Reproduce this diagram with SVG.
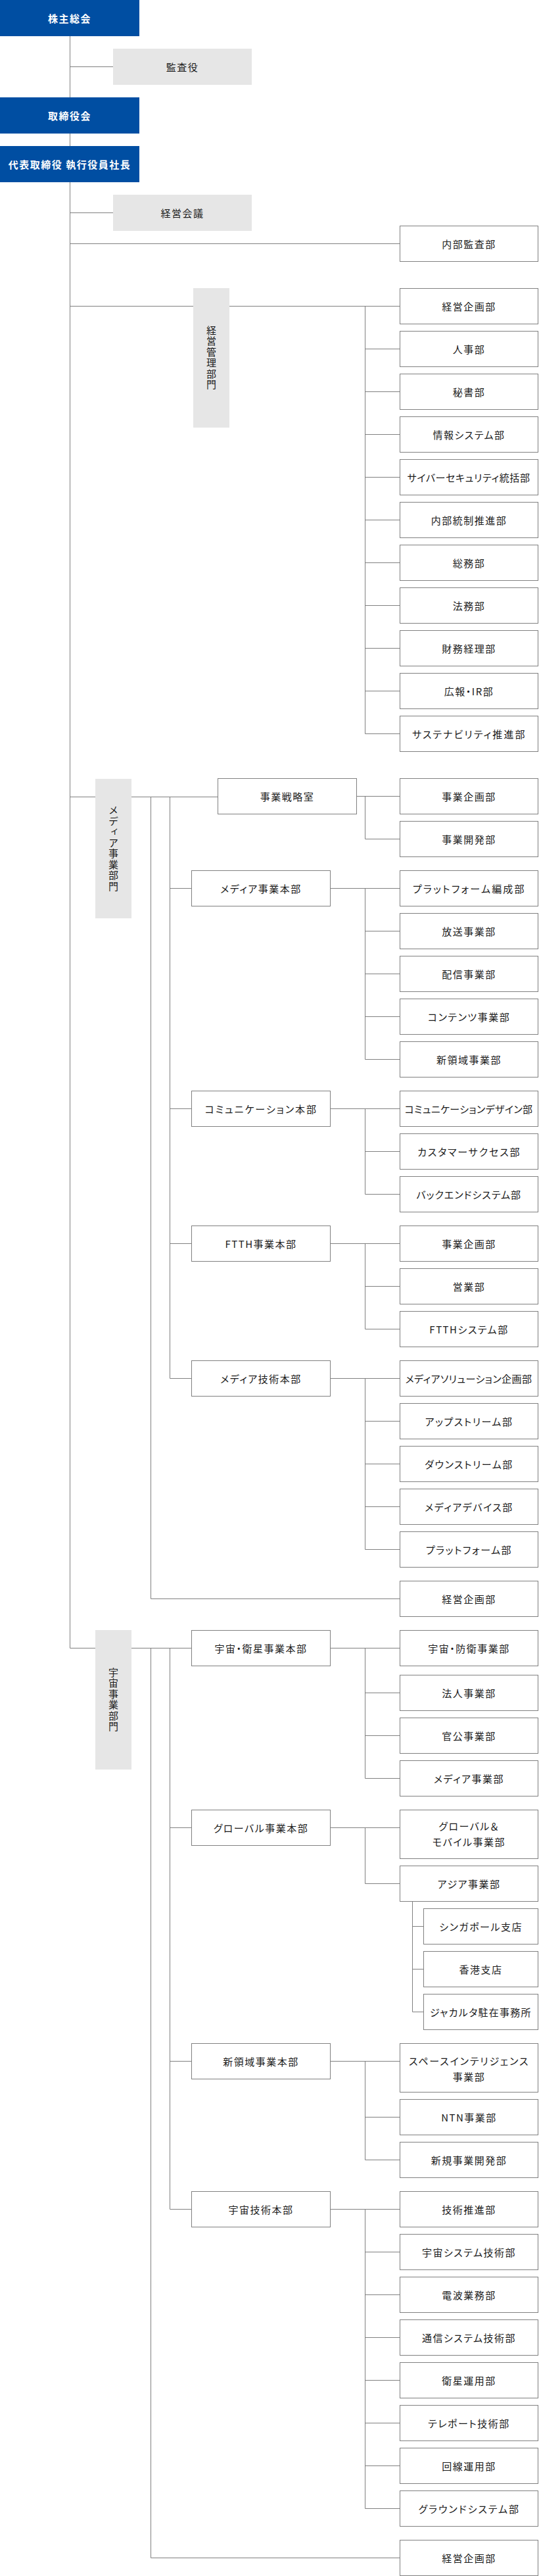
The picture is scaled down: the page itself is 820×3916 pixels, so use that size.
<svg xmlns="http://www.w3.org/2000/svg" width="820" height="3916" viewBox="0 0 820 3916">
<style>
.ln{fill:none;stroke:#808080;stroke-width:1}
.box{fill:#fff;stroke:#808080;stroke-width:1}
.blue{fill:#004ea2}
.gray{fill:#e6e6e6}
text{font-family:"Noto Sans CJK JP","Noto Sans",sans-serif;font-size:15px;fill:#1a1a1a;text-anchor:middle;dominant-baseline:central;letter-spacing:1.5px;font-feature-settings:"palt"}
.tw{fill:#fff;font-weight:bold}
.tv{writing-mode:vertical-rl;font-feature-settings:normal}
</style>
<rect width="820" height="3916" fill="#fff"/>
<g id="connectors">
<path class="ln" d="M106.5 55V2505.5H291.5M106.5 101.5H172M106.5 323.5H172M106.5 370.5H608.5"/>
<path class="ln" d="M106.5 465.5H608.5M555.5 465.5V1115.5M555.5 530.5H608.5M555.5 595.5H608.5M555.5 660.5H608.5M555.5 725.5H608.5M555.5 790.5H608.5M555.5 855.5H608.5M555.5 920.5H608.5M555.5 985.5H608.5M555.5 1050.5H608.5M555.5 1115.5H608.5"/>
<path class="ln" d="M106.5 1211.5H331.5M229.5 1211.5V2430.5H608.5M258.5 1211.5V2095.5M542.5 1210.5H608.5M555.5 1210.5V1275.5H608.5"/>
<path class="ln" d="M258.5 1350.5H291.5M502.5 1350.5H608.5M555.5 1350.5V1610.5M555.5 1415.5H608.5M555.5 1480.5H608.5M555.5 1545.5H608.5M555.5 1610.5H608.5"/>
<path class="ln" d="M258.5 1685.5H291.5M502.5 1685.5H608.5M555.5 1685.5V1815.5M555.5 1750.5H608.5M555.5 1815.5H608.5"/>
<path class="ln" d="M258.5 1890.5H291.5M502.5 1890.5H608.5M555.5 1890.5V2020.5M555.5 1955.5H608.5M555.5 2020.5H608.5"/>
<path class="ln" d="M258.5 2095.5H291.5M502.5 2095.5H608.5M555.5 2095.5V2355.5M555.5 2160.5H608.5M555.5 2225.5H608.5M555.5 2290.5H608.5M555.5 2355.5H608.5"/>
<path class="ln" d="M229.5 2505.5V3888.5H608.5M258.5 2505.5V3358.5M502.5 2505.5H608.5M555.5 2505.5V2703.5M555.5 2573.5H608.5M555.5 2638.5H608.5M555.5 2703.5H608.5"/>
<path class="ln" d="M258.5 2778.5H291.5M502.5 2778.5H608.5M555.5 2778.5V2863.5H608.5M627.5 2890.5V3058.5M627.5 2928.5H644.5M627.5 2993.5H644.5M627.5 3058.5H644.5"/>
<path class="ln" d="M258.5 3133.5H291.5M502.5 3133.5H608.5M555.5 3133.5V3283.5M555.5 3218.5H608.5M555.5 3283.5H608.5"/>
<path class="ln" d="M258.5 3358.5H291.5M502.5 3358.5H608.5M555.5 3358.5V3813.5M555.5 3423.5H608.5M555.5 3488.5H608.5M555.5 3553.5H608.5M555.5 3618.5H608.5M555.5 3683.5H608.5M555.5 3748.5H608.5M555.5 3813.5H608.5"/>
</g>
<g id="n-kabunushi"><rect class="blue" x="0" y="0" width="212" height="55"/><text class="tw" x="106" y="27.5">株主総会</text></g>
<g id="n-kansayaku"><rect class="gray" x="172" y="74" width="211" height="55"/><text x="277.5" y="101.5">監査役</text></g>
<g id="n-torishimariyakukai"><rect class="blue" x="0" y="148" width="212" height="55"/><text class="tw" x="106" y="175.5">取締役会</text></g>
<g id="n-shacho"><rect class="blue" x="0" y="222" width="212" height="55"/><text class="tw" x="106" y="249.5">代表取締役 執行役員社長</text></g>
<g id="n-keieikaigi"><rect class="gray" x="172" y="296" width="211" height="55"/><text x="277.5" y="323.5">経営会議</text></g>
<g id="n-naibukansa"><rect class="box" x="608.5" y="343.5" width="210" height="54"/><text x="713.5" y="370.5">内部監査部</text></g>
<g id="n-keieikanri"><rect class="gray" x="294" y="438" width="55" height="212"/><text class="tv" x="321.5" y="544">経営管理部門</text></g>
<g id="n-km-1"><rect class="box" x="608.5" y="438.5" width="210" height="54"/><text x="713.5" y="465.5">経営企画部</text></g>
<g id="n-km-2"><rect class="box" x="608.5" y="503.5" width="210" height="54"/><text x="713.5" y="530.5">人事部</text></g>
<g id="n-km-3"><rect class="box" x="608.5" y="568.5" width="210" height="54"/><text x="713.5" y="595.5">秘書部</text></g>
<g id="n-km-4"><rect class="box" x="608.5" y="633.5" width="210" height="54"/><text x="713.5" y="660.5">情報システム部</text></g>
<g id="n-km-5"><rect class="box" x="608.5" y="698.5" width="210" height="54"/><text x="713.5" y="725.5" textLength="188" lengthAdjust="spacing">サイバーセキュリティ統括部</text></g>
<g id="n-km-6"><rect class="box" x="608.5" y="763.5" width="210" height="54"/><text x="713.5" y="790.5">内部統制推進部</text></g>
<g id="n-km-7"><rect class="box" x="608.5" y="828.5" width="210" height="54"/><text x="713.5" y="855.5">総務部</text></g>
<g id="n-km-8"><rect class="box" x="608.5" y="893.5" width="210" height="54"/><text x="713.5" y="920.5">法務部</text></g>
<g id="n-km-9"><rect class="box" x="608.5" y="958.5" width="210" height="54"/><text x="713.5" y="985.5">財務経理部</text></g>
<g id="n-km-10"><rect class="box" x="608.5" y="1023.5" width="210" height="54"/><text x="713.5" y="1050.5">広報・IR部</text></g>
<g id="n-km-11"><rect class="box" x="608.5" y="1088.5" width="210" height="54"/><text x="713.5" y="1115.5" textLength="173" lengthAdjust="spacing">サステナビリティ推進部</text></g>
<g id="n-media"><rect class="gray" x="145" y="1184" width="55" height="212"/><text class="tv" x="172.5" y="1290">メディア事業部門</text></g>
<g id="n-senryaku"><rect class="box" x="331.5" y="1183.5" width="211" height="54"/><text x="437" y="1210.5">事業戦略室</text></g>
<g id="n-sr-1"><rect class="box" x="608.5" y="1183.5" width="210" height="54"/><text x="713.5" y="1210.5">事業企画部</text></g>
<g id="n-sr-2"><rect class="box" x="608.5" y="1248.5" width="210" height="54"/><text x="713.5" y="1275.5">事業開発部</text></g>
<g id="n-mediahonbu"><rect class="box" x="291.5" y="1323.5" width="211" height="54"/><text x="397" y="1350.5">メディア事業本部</text></g>
<g id="n-mh-1"><rect class="box" x="608.5" y="1323.5" width="210" height="54"/><text x="713.5" y="1350.5" textLength="171" lengthAdjust="spacing">プラットフォーム編成部</text></g>
<g id="n-mh-2"><rect class="box" x="608.5" y="1388.5" width="210" height="54"/><text x="713.5" y="1415.5">放送事業部</text></g>
<g id="n-mh-3"><rect class="box" x="608.5" y="1453.5" width="210" height="54"/><text x="713.5" y="1480.5">配信事業部</text></g>
<g id="n-mh-4"><rect class="box" x="608.5" y="1518.5" width="210" height="54"/><text x="713.5" y="1545.5">コンテンツ事業部</text></g>
<g id="n-mh-5"><rect class="box" x="608.5" y="1583.5" width="210" height="54"/><text x="713.5" y="1610.5">新領域事業部</text></g>
<g id="n-comm"><rect class="box" x="291.5" y="1658.5" width="211" height="54"/><text x="397" y="1685.5" textLength="171" lengthAdjust="spacing">コミュニケーション本部</text></g>
<g id="n-cm-1"><rect class="box" x="608.5" y="1658.5" width="210" height="54"/><text x="713.5" y="1685.5" textLength="196" lengthAdjust="spacing">コミュニケーションデザイン部</text></g>
<g id="n-cm-2"><rect class="box" x="608.5" y="1723.5" width="210" height="54"/><text x="713.5" y="1750.5" textLength="157" lengthAdjust="spacing">カスタマーサクセス部</text></g>
<g id="n-cm-3"><rect class="box" x="608.5" y="1788.5" width="210" height="54"/><text x="713.5" y="1815.5" textLength="160" lengthAdjust="spacing">バックエンドシステム部</text></g>
<g id="n-ftth"><rect class="box" x="291.5" y="1863.5" width="211" height="54"/><text x="397" y="1890.5">FTTH事業本部</text></g>
<g id="n-ft-1"><rect class="box" x="608.5" y="1863.5" width="210" height="54"/><text x="713.5" y="1890.5">事業企画部</text></g>
<g id="n-ft-2"><rect class="box" x="608.5" y="1928.5" width="210" height="54"/><text x="713.5" y="1955.5">営業部</text></g>
<g id="n-ft-3"><rect class="box" x="608.5" y="1993.5" width="210" height="54"/><text x="713.5" y="2020.5">FTTHシステム部</text></g>
<g id="n-mtech"><rect class="box" x="291.5" y="2068.5" width="211" height="54"/><text x="397" y="2095.5">メディア技術本部</text></g>
<g id="n-mt-1"><rect class="box" x="608.5" y="2068.5" width="210" height="54"/><text x="713.5" y="2095.5" textLength="194" lengthAdjust="spacing">メディアソリューション企画部</text></g>
<g id="n-mt-2"><rect class="box" x="608.5" y="2133.5" width="210" height="54"/><text x="713.5" y="2160.5">アップストリーム部</text></g>
<g id="n-mt-3"><rect class="box" x="608.5" y="2198.5" width="210" height="54"/><text x="713.5" y="2225.5">ダウンストリーム部</text></g>
<g id="n-mt-4"><rect class="box" x="608.5" y="2263.5" width="210" height="54"/><text x="713.5" y="2290.5">メディアデバイス部</text></g>
<g id="n-mt-5"><rect class="box" x="608.5" y="2328.5" width="210" height="54"/><text x="713.5" y="2355.5">プラットフォーム部</text></g>
<g id="n-media-keiei"><rect class="box" x="608.5" y="2403.5" width="210" height="54"/><text x="713.5" y="2430.5">経営企画部</text></g>
<g id="n-space"><rect class="gray" x="145" y="2478" width="55" height="212"/><text class="tv" x="172.5" y="2584">宇宙事業部門</text></g>
<g id="n-eisei"><rect class="box" x="291.5" y="2478.5" width="211" height="54"/><text x="397" y="2505.5">宇宙・衛星事業本部</text></g>
<g id="n-es-1"><rect class="box" x="608.5" y="2478.5" width="210" height="54"/><text x="713.5" y="2505.5">宇宙・防衛事業部</text></g>
<g id="n-es-2"><rect class="box" x="608.5" y="2546.5" width="210" height="54"/><text x="713.5" y="2573.5">法人事業部</text></g>
<g id="n-es-3"><rect class="box" x="608.5" y="2611.5" width="210" height="54"/><text x="713.5" y="2638.5">官公事業部</text></g>
<g id="n-es-4"><rect class="box" x="608.5" y="2676.5" width="210" height="54"/><text x="713.5" y="2703.5">メディア事業部</text></g>
<g id="n-global"><rect class="box" x="291.5" y="2751.5" width="211" height="54"/><text x="397" y="2778.5">グローバル事業本部</text></g>
<g id="n-gl-1"><rect class="box" x="608.5" y="2751.5" width="210" height="74"/><text x="713.5" y="2775">グローバル＆</text><text x="713.5" y="2799">モバイル事業部</text></g>
<g id="n-gl-2"><rect class="box" x="608.5" y="2836.5" width="210" height="54"/><text x="713.5" y="2863.5">アジア事業部</text></g>
<g id="n-as-1"><rect class="box" x="644.5" y="2901.5" width="174" height="54"/><text x="731.5" y="2928.5">シンガポール支店</text></g>
<g id="n-as-2"><rect class="box" x="644.5" y="2966.5" width="174" height="54"/><text x="731.5" y="2993.5">香港支店</text></g>
<g id="n-as-3"><rect class="box" x="644.5" y="3031.5" width="174" height="54"/><text x="731.5" y="3058.5" textLength="155" lengthAdjust="spacing">ジャカルタ駐在事務所</text></g>
<g id="n-shinryoiki"><rect class="box" x="291.5" y="3106.5" width="211" height="54"/><text x="397" y="3133.5">新領域事業本部</text></g>
<g id="n-sh-1"><rect class="box" x="608.5" y="3106.5" width="210" height="74"/><text x="713.5" y="3132" textLength="183" lengthAdjust="spacing">スペースインテリジェンス</text><text x="713.5" y="3156">事業部</text></g>
<g id="n-sh-2"><rect class="box" x="608.5" y="3191.5" width="210" height="54"/><text x="713.5" y="3218.5">NTN事業部</text></g>
<g id="n-sh-3"><rect class="box" x="608.5" y="3256.5" width="210" height="54"/><text x="713.5" y="3283.5">新規事業開発部</text></g>
<g id="n-stech"><rect class="box" x="291.5" y="3331.5" width="211" height="54"/><text x="397" y="3358.5">宇宙技術本部</text></g>
<g id="n-st-1"><rect class="box" x="608.5" y="3331.5" width="210" height="54"/><text x="713.5" y="3358.5">技術推進部</text></g>
<g id="n-st-2"><rect class="box" x="608.5" y="3396.5" width="210" height="54"/><text x="713.5" y="3423.5">宇宙システム技術部</text></g>
<g id="n-st-3"><rect class="box" x="608.5" y="3461.5" width="210" height="54"/><text x="713.5" y="3488.5">電波業務部</text></g>
<g id="n-st-4"><rect class="box" x="608.5" y="3526.5" width="210" height="54"/><text x="713.5" y="3553.5">通信システム技術部</text></g>
<g id="n-st-5"><rect class="box" x="608.5" y="3591.5" width="210" height="54"/><text x="713.5" y="3618.5">衛星運用部</text></g>
<g id="n-st-6"><rect class="box" x="608.5" y="3656.5" width="210" height="54"/><text x="713.5" y="3683.5">テレポート技術部</text></g>
<g id="n-st-7"><rect class="box" x="608.5" y="3721.5" width="210" height="54"/><text x="713.5" y="3748.5">回線運用部</text></g>
<g id="n-st-8"><rect class="box" x="608.5" y="3786.5" width="210" height="54"/><text x="713.5" y="3813.5" textLength="154" lengthAdjust="spacing">グラウンドシステム部</text></g>
<g id="n-space-keiei"><rect class="box" x="608.5" y="3861.5" width="210" height="54"/><text x="713.5" y="3888.5">経営企画部</text></g>
</svg>
